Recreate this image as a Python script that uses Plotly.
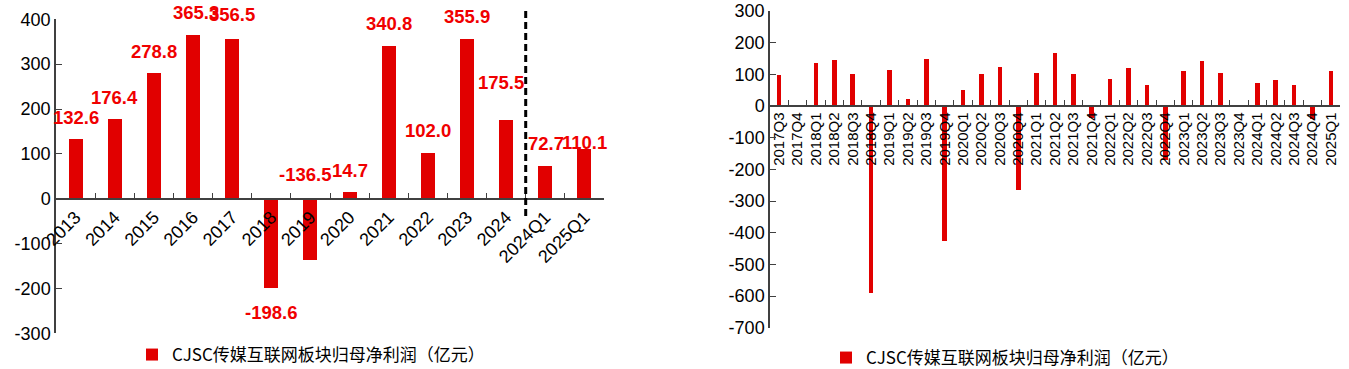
import plotly.graph_objects as go

# ---------------- data ----------------
annual_cats = ["2013", "2014", "2015", "2016", "2017", "2018", "2019", "2020",
               "2021", "2022", "2023", "2024", "2024Q1", "2025Q1"]
annual_vals = [132.6, 176.4, 278.8, 365.3, 356.5, -198.6, -136.5, 14.7,
               340.8, 102.0, 355.9, 175.5, 72.7, 110.1]

quarter_cats = ["2017Q3", "2017Q4", "2018Q1", "2018Q2", "2018Q3", "2018Q4",
                "2019Q1", "2019Q2", "2019Q3", "2019Q4", "2020Q1", "2020Q2",
                "2020Q3", "2020Q4", "2021Q1", "2021Q2", "2021Q3", "2021Q4",
                "2022Q1", "2022Q2", "2022Q3", "2022Q4", "2023Q1", "2023Q2",
                "2023Q3", "2023Q4", "2024Q1", "2024Q2", "2024Q3", "2024Q4",
                "2025Q1"]
quarter_vals = [97, None, 136, 146, 102, -590, 115, 23, 147, -427, 52, 102,
                122, -264, 104, 166, 102, -37, 86, 121, 66, -171, 110, 141,
                105, -2, 72.7, 82, 65, -40, 110.1]

left_tickvals = [-300, -200, -100, 0, 100, 200, 300, 400]
left_ticktext = ["-300", "-200", "-100", "0", "100", "200", "300", "400"]
right_tickvals = [-700, -600, -500, -400, -300, -200, -100, 0, 100, 200, 300]
right_ticktext = ["-700", "-600", "-500", "-400", "-300", "-200", "-100",
                  "0", "100", "200", "300"]

series_name = "CJSC传媒互联网板块归母净利润（亿元）"

# ---------------- style ----------------
W, H = 1349, 369
BAR = "#E10000"
LABEL = "#F00000"
AX = "#404040"
TICKFONT = dict(family="Liberation Sans, Arial", size=18, color="#000000")

# label offsets in pixels (x shift, y shift) relative to bar end
label_dx = [0, 0, 0, 3, 0, 0, -5, 0, 0, 0, 0, -5, 1, 0]
label_dy = [22, 22, 22, 22, 24, -25, 24, 22, 22, 22, 23, 38, 23, 7]
label_on_baseline = [False, False, False, False, False, False, True, False,
                     False, False, False, False, False, False]


def px_x(p):
    """page pixel -> paper fraction (x)"""
    return p / W


def px_y(p):
    """page pixel -> paper fraction (y)"""
    return 1 - p / H


fig = go.Figure()

fig.add_trace(go.Bar(
    x=annual_cats, y=annual_vals, name=series_name,
    marker=dict(color=BAR, line=dict(width=0)), width=0.36,
    xaxis="x", yaxis="y", legend="legend",
))
fig.add_trace(go.Bar(
    x=quarter_cats, y=quarter_vals, name=series_name,
    marker=dict(color=BAR, line=dict(width=0)), width=0.25,
    xaxis="x2", yaxis="y2", legend="legend2",
))

# data labels for the annual chart (x given as category index)
for i, v in enumerate(annual_vals):
    base = 0 if label_on_baseline[i] else v
    fig.add_annotation(
        x=i, y=base, xref="x", yref="y", text=f"{v:.1f}", showarrow=False,
        xanchor="center", yanchor="middle", xshift=label_dx[i], yshift=label_dy[i],
        font=dict(family="Liberation Sans, Arial", size=18.5, color=LABEL, weight="bold"),
    )

# dashed separator between annual and quarterly columns
fig.add_shape(type="line", xref="x", yref="paper",
              x0=11.5, x1=11.5, y0=px_y(216), y1=px_y(7),
              line=dict(color="#000000", width=3, dash="7px,4px"))

left_dom_y = [px_y(333.3), px_y(19.3)]
right_dom_y = [px_y(327.7), px_y(11)]

fig.update_layout(
    template="none",
    width=W, height=H,
    margin=dict(l=0, r=0, t=0, b=0, autoexpand=False),
    paper_bgcolor="white", plot_bgcolor="white",
    bargap=0, showlegend=True,
    xaxis=dict(
        domain=[px_x(56), px_x(604)], anchor="free", position=px_y(199),
        type="category", range=[-0.5, len(annual_cats) - 0.5], autorange=False,
        automargin=False,
        tickangle=-45, tickfont=TICKFONT,
        tickmode="array", tickvals=annual_cats, ticktext=annual_cats,
        showline=True, linecolor=AX, linewidth=1.5,
        ticks="inside", ticklen=5, tickcolor=AX, tickson="boundaries",
        showgrid=False, zeroline=False,
    ),
    yaxis=dict(
        domain=left_dom_y, anchor="x", range=[-300, 400], autorange=False,
        automargin=False,
        tickmode="array", tickvals=left_tickvals, ticktext=left_ticktext,
        tickfont=TICKFONT, showline=True, linecolor=AX, linewidth=1.5,
        ticks="inside", ticklen=6, tickcolor=AX,
        showgrid=False, zeroline=False,
    ),
    xaxis2=dict(
        domain=[px_x(770), px_x(1340)], anchor="free", position=px_y(105.7),
        type="category", range=[-0.5, len(quarter_cats) - 0.5], autorange=False,
        automargin=False,
        tickangle=-90,
        tickmode="array", tickvals=quarter_cats, ticktext=quarter_cats,
        tickfont=dict(family="Liberation Sans, Arial", size=15, color="#000000"),
        showline=True, linecolor=AX, linewidth=1.5,
        ticks="inside", ticklen=5, tickcolor=AX, tickson="boundaries",
        showgrid=False, zeroline=False,
    ),
    yaxis2=dict(
        domain=right_dom_y, anchor="x2", range=[-700, 300], autorange=False,
        automargin=False,
        tickmode="array", tickvals=right_tickvals, ticktext=right_ticktext,
        tickfont=TICKFONT, showline=True, linecolor=AX, linewidth=1.5,
        ticks="inside", ticklen=6, tickcolor=AX,
        showgrid=False, zeroline=False,
    ),
    legend=dict(
        x=px_x(132), y=px_y(355), xanchor="left", yanchor="middle",
        font=dict(family="Noto Sans CJK SC", size=17, color="#000000"),
        bgcolor="rgba(0,0,0,0)", itemwidth=30,
    ),
    legend2=dict(
        x=px_x(826), y=px_y(358), xanchor="left", yanchor="middle",
        font=dict(family="Noto Sans CJK SC", size=17, color="#000000"),
        bgcolor="rgba(0,0,0,0)", itemwidth=30,
    ),
)

# remove the default page margin so the figure fills the window exactly
fig.write_html(
    "out.html",
    config={"displayModeBar": False},
    post_script="document.body.style.margin='0';document.body.style.overflow='hidden';",
)
